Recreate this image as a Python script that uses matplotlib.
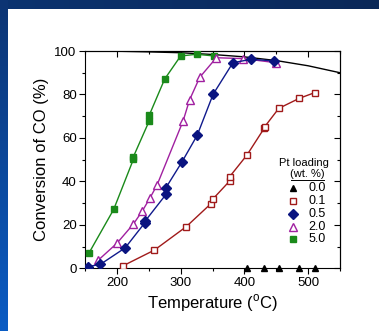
import numpy as np
import matplotlib
matplotlib.use("Agg")
import matplotlib.pyplot as plt

plt.rcParams["font.family"] = ["Liberation Sans", "DejaVu Sans"]
plt.rcParams["mathtext.fontset"] = "custom"
plt.rcParams["mathtext.rm"] = "Liberation Sans"

# ---------- data ----------
t_00 = [404, 430, 454, 486, 510]
c_00 = [0, 0, 0, 0, 0]

t_01 = [210, 259, 309, 347, 350, 377, 377, 404, 431, 432, 454, 486, 510]
c_01 = [1.2, 8.4, 19.2, 29.6, 31.7, 40.2, 42.2, 52.1, 64.4, 65.2, 73.6, 78.2, 80.8]

t_05 = [155, 174, 213, 244, 244, 277, 277, 302, 326, 351, 382, 411, 447]
c_05 = [0.8, 1.8, 9.4, 21.0, 21.6, 34.0, 37.1, 48.9, 61.2, 80.1, 94.6, 96.2, 95.4]

t_20 = [171, 200, 226, 240, 252, 263, 304, 314, 330, 356, 398, 450]
c_20 = [3.8, 11.5, 20.4, 26.4, 32.4, 38.3, 67.9, 77.5, 87.9, 96.9, 96.5, 94.6]

t_50 = [156, 195, 226, 226, 251, 251, 275, 300, 325, 353]
c_50 = [6.9, 27.1, 50.2, 51.4, 68.0, 70.6, 87.1, 97.7, 98.5, 97.7]

# equilibrium line
t_eq = [150, 200, 250, 300, 350, 400, 450, 500, 550]
c_eq = [100, 99.9, 99.6, 99.2, 98.4, 97.3, 95.6, 93.2, 90.0]

loadings = ["0.0", "0.1", "0.5", "2.0", "5.0"]

# marker styles per loading
styles = [
    dict(marker="^", ms=5, mfc="black", mec="black"),
    dict(marker="s", ms=5, mfc="white", mec="#a01a1a"),
    dict(marker="D", ms=5, mfc="#0a1480", mec="#0a1480"),
    dict(marker="^", ms=6, mfc="white", mec="#a020a0"),
    dict(marker="s", ms=5, mfc="#1a8a1a", mec="#1a8a1a"),
]

fig = plt.figure(figsize=(3.79, 3.31), dpi=100)
fig.patch.set_facecolor("white")

# slide-style blue frame (top band + left band)
bg = fig.add_axes([0, 0, 1, 1], zorder=-10)
bg.axis("off")
H, W = 331, 379
img = np.ones((H, W, 3))
top = np.linspace(0, 1, W)[:, None]
img[:9, :, :] = ((1 - top) * np.array([11, 51, 112]) + top * np.array([10, 40, 88]))[None, :, :] / 255
left = np.linspace(0, 1, H)[:, None]
img[9:, :8, :] = ((1 - left[9:]) * np.array([12, 52, 115]) + left[9:] * np.array([10, 92, 196]))[:, None, :] / 255
img[:9, :8, :] = np.array([12, 52, 115]) / 255
bg.imshow(img, aspect="auto", extent=[0, 1, 0, 1], interpolation="bilinear")
bg.set_xlim(0, 1)
bg.set_ylim(0, 1)

ax = fig.add_axes([85 / W, 1 - 268.3 / H, 255 / W, 217.3 / H])
ax.set_facecolor("white")

ax.plot(t_eq, c_eq, color="black", lw=1.0, zorder=2)
ax.plot(t_50, c_50, color="#1a8a1a", lw=1.0, zorder=3, **styles[4])
ax.plot(t_20, c_20, color="#a020a0", lw=1.0, zorder=3, **styles[3])
ax.plot(t_05, c_05, color="#101a8c", lw=1.0, zorder=3, **styles[2])
ax.plot(t_01, c_01, color="#a01a1a", lw=1.0, zorder=3, **styles[1])
ax.plot(t_00, c_00, ls="none", zorder=4, clip_on=False, **styles[0])

ax.set_xlim(150, 550)
ax.set_ylim(0, 100)
ax.set_xticks([200, 300, 400, 500])
ax.set_xticks([150, 250, 350, 450, 550], minor=True)
ax.set_yticks([0, 20, 40, 60, 80, 100])
ax.set_yticks([10, 30, 50, 70, 90], minor=True)
ax.tick_params(which="both", direction="out", labelsize=9.5, top=False, right=False)
ax.tick_params(which="major", length=4, width=0.8)
ax.tick_params(which="minor", length=2.5, width=0.8)
ax.tick_params(axis="x", pad=2)
ax.tick_params(axis="y", pad=2)

# mirrored inward ticks on top/right
axt = ax.secondary_xaxis("top")
axt.set_xticks([200, 300, 400, 500])
axt.set_xticks([150, 250, 350, 450, 550], minor=True)
axt.tick_params(which="both", direction="in", labeltop=False)
axt.tick_params(which="major", length=4, width=0.8)
axt.tick_params(which="minor", length=2.5, width=0.8)
axr = ax.secondary_yaxis("right")
axr.set_yticks([0, 20, 40, 60, 80, 100])
axr.set_yticks([10, 30, 50, 70, 90], minor=True)
axr.tick_params(which="both", direction="in", labelright=False)
axr.tick_params(which="major", length=4, width=0.8)
axr.tick_params(which="minor", length=2.5, width=0.8)

for sp in ax.spines.values():
    sp.set_linewidth(0.8)

ax.set_xlabel("Temperature ($^{\\mathrm{o}}$C)", fontsize=12, labelpad=3)
ax.set_ylabel("Conversion of CO (%)", fontsize=12, labelpad=4)

# hand-placed legend, as in the original figure
ax.text(0.859, 0.485, "Pt loading", transform=ax.transAxes, ha="center", va="center", fontsize=8)
ax.text(0.872, 0.436, "(wt. %)", transform=ax.transAxes, ha="center", va="center", fontsize=8)
ax.plot([0.808, 0.937], [0.406, 0.406], transform=ax.transAxes, color="black", lw=0.7)
rows_y = [0.368, 0.310, 0.251, 0.191, 0.133]
for lab, st, yy in zip(loadings, styles, rows_y):
    ax.plot([0.8145], [yy], transform=ax.transAxes, ls="none", **st)
    ax.text(0.876, yy, lab, transform=ax.transAxes, ha="left", va="center", fontsize=9)

fig.savefig("out.png", dpi=100)
